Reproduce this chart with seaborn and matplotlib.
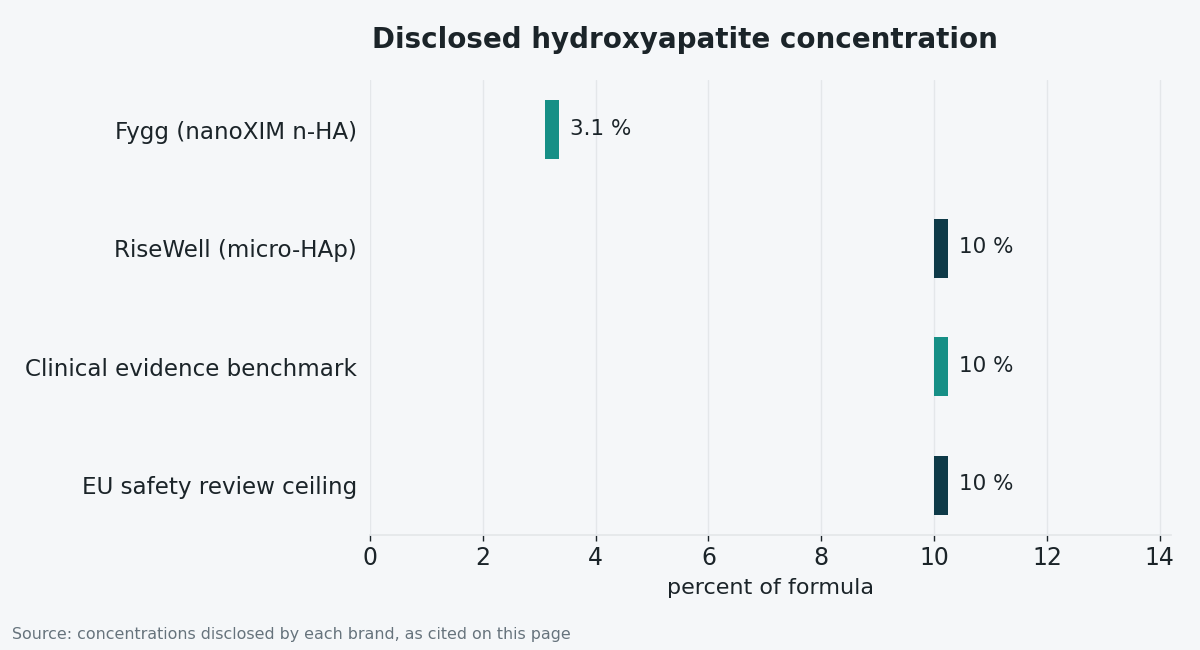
import matplotlib
matplotlib.use("Agg")
import matplotlib.pyplot as plt
import seaborn as sns

categories = ["Fygg (nanoXIM n-HA)", "RiseWell (micro-HAp)",
              "Clinical evidence benchmark", "EU safety review ceiling"]
values = [3.1, 10, 10, 10]
value_labels = ["3.1 %", "10 %", "10 %", "10 %"]
bar_colors = ["#168f86", "#0e3a48", "#168f86", "#0e3a48"]

bg = "#f5f7f9"
text_color = "#1b2429"

sns.set_theme(style="whitegrid", rc={
    "figure.facecolor": bg, "axes.facecolor": bg,
    "grid.color": "#e4e7ea", "axes.edgecolor": "#e4e7ea",
    "text.color": text_color, "xtick.color": text_color, "ytick.color": text_color,
    "axes.labelcolor": text_color,
})
plt.rcParams["font.family"] = ["DejaVu Sans"]

fig = plt.figure(figsize=(12, 6.5), dpi=100)
ax = fig.add_axes([370 / 1200, 1 - 535 / 650, 801 / 1200, 455 / 650])

ypos = list(range(len(categories)))
ax.barh(ypos, [0.25] * len(values), left=values, height=0.5, color=bar_colors, linewidth=0)
for y, v, lab in zip(ypos, values, value_labels):
    ax.text(v + 0.45, y - 0.01, lab, va="center", ha="left", fontsize=15.5, color=text_color)

ax.set_yticks(ypos)
ax.set_yticklabels(categories, fontsize=16.6)
ax.set_ylim(len(categories) - 0.58, -0.42)
ax.set_xlim(0, 14.2)
ax.set_xticks(range(0, 15, 2))
ax.tick_params(axis="x", labelsize=17, length=4, width=1, color=text_color, bottom=True, pad=4)
ax.tick_params(axis="y", length=0, pad=9.5)
ax.grid(axis="y", visible=False)
ax.set_xlabel("percent of formula", fontsize=16, labelpad=6)
for s in ["top", "right", "left"]:
    ax.spines[s].set_visible(False)

fig.text(685 / 1200, 1 - 40 / 650, "Disclosed hydroxyapatite concentration",
         ha="center", va="center", fontsize=20, fontweight="bold", color=text_color)
fig.text(12 / 1200, 1 - 635 / 650, "Source: concentrations disclosed by each brand, as cited on this page",
         ha="left", va="center", fontsize=11.4, color="#66737c")

fig.savefig("out.png", dpi=100, facecolor=bg)
